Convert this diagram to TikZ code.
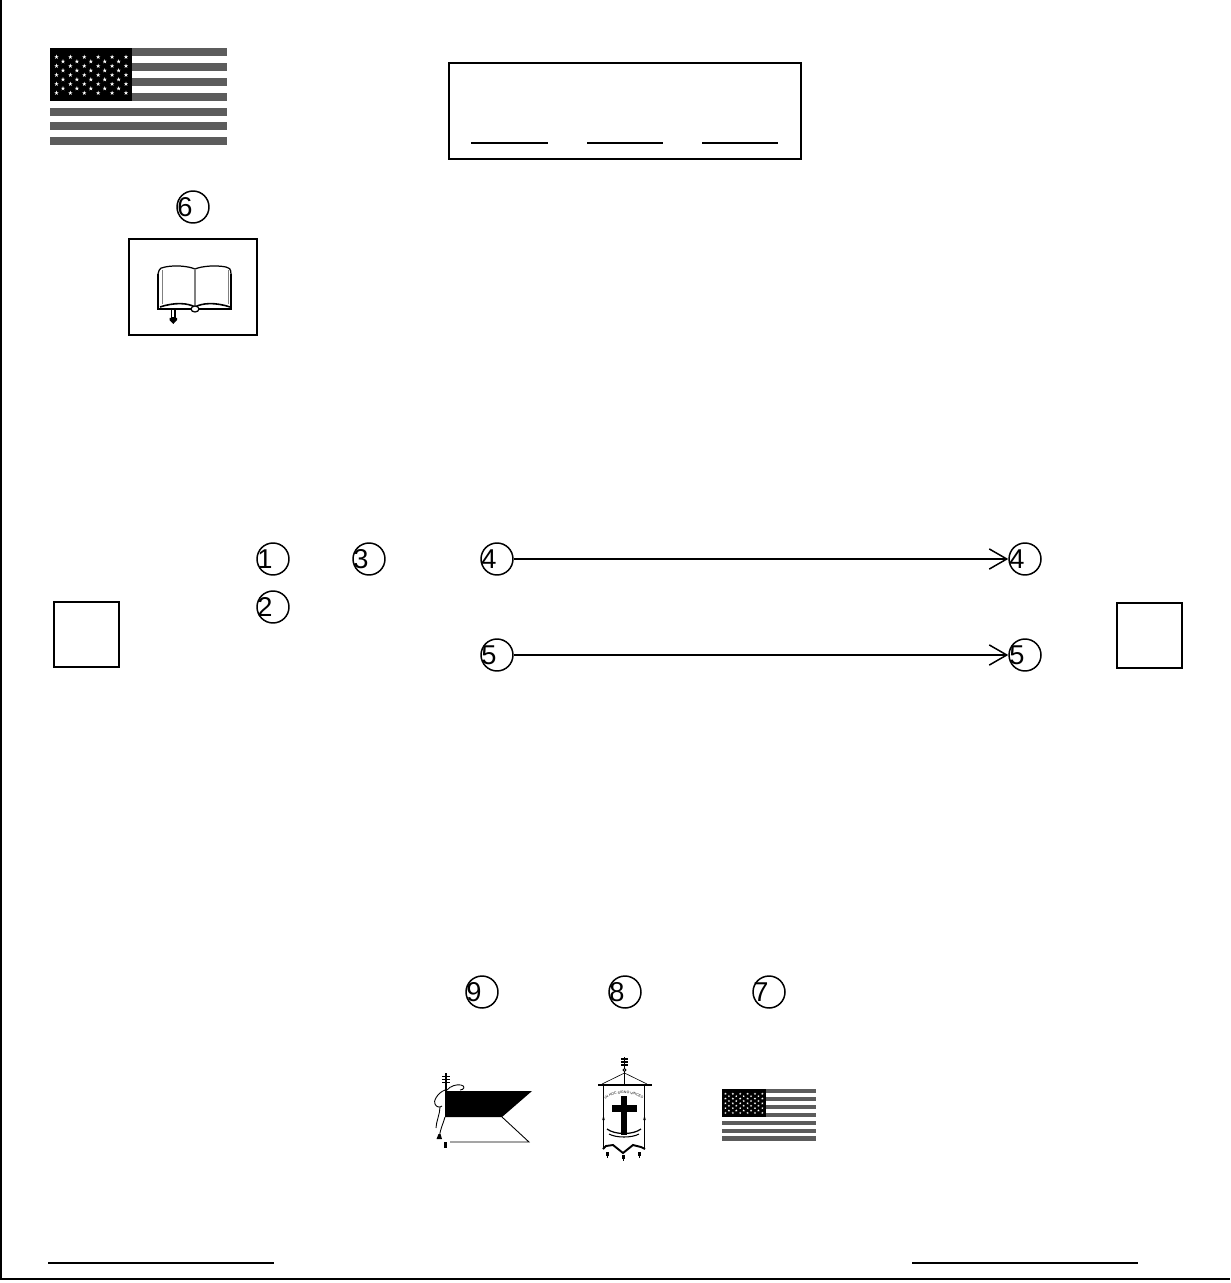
\documentclass[tikz,border=0pt]{standalone}
\usepackage{fontspec}
\setmainfont{Liberation Sans}
\usepackage{tikz}
\usetikzlibrary{arrows.meta, decorations.text}
\definecolor{stripegray}{gray}{0.36}
\tikzset{
  frameline/.style={line width=1.3pt},
  boxline/.style={draw, line width=1.1pt},
  inkline/.style={line width=0.7pt},
  numcircle/.style={draw, circle, line width=0.85pt, minimum size=18.2pt, inner sep=0pt, font=\fontsize{15.5}{16}\selectfont},
  flow/.style={->, line width=0.85pt, >={Straight Barb[length=10pt, width=11.5pt, line width=0.85pt]}},
  flag/.pic={
    % Stripes first, then the canton on top of them
    \foreach \row in {0,...,6}
      \fill[stripegray] (0,{\row*14.9}) rectangle (177,{\row*14.9+8});
    \fill[black] (0,0) rectangle (82,53);
    \foreach \row in {0,2,4,6,8}
      \foreach \col in {0,...,5}
        \fill[white] ({6.5+13.9*\col},{9+4.5*\row}) +(270:2.3) -- +(54:2.3) -- +(198:2.3) -- +(342:2.3) -- +(126:2.3) -- cycle;
    \foreach \row in {1,3,5,7}
      \foreach \col in {0,...,4}
        \fill[white] ({13+13.9*\col},{9+4.5*\row}) +(270:2.3) -- +(54:2.3) -- +(198:2.3) -- +(342:2.3) -- +(126:2.3) -- cycle;
  }
}
\newcommand{\shifted}[1]{\kern-0.3em#1\kern0.3em}

\begin{document}
\begin{tikzpicture}[x=0.02cm, y=-0.02cm, line cap=butt, line join=miter]
  \useasboundingbox (0,0) rectangle (1230,1283);

  % Page edge: only left and bottom show
  \draw[frameline] (1,0) -- (1,1279) -- (1230,1279);

  % Signature lines
  \coordinate (signAleft) at (48,1263);
  \coordinate (signAright) at (274,1263);
  \coordinate (signBleft) at (912,1263);
  \coordinate (signBright) at (1138,1263);
  \draw[boxline] (signAleft) -- (signAright);
  \draw[boxline] (signBleft) -- (signBright);

  % Flag, title box
  \pic at (50,48) {flag};
  \node[boxline, minimum width=200pt, minimum height=54.4pt, inner sep=0pt] (titlebox) at (625,111) {};
  \foreach \xa/\xb in {471/548,587/663,702/778}
    \draw[line width=1pt] (\xa,143) -- (\xb,143);

  % Book
  \node[numcircle] (six) at (193,207) {\shifted{6}};
  \node[boxline, minimum width=72.5pt, minimum height=54.4pt, inner sep=0pt] (bookbox) at (193,287) {};
  \begin{scope}[inkline]
    \draw (158,274) .. controls (159,268) and (162,267) .. (165,267) .. controls (175,265) and (188,266) .. (195,269)
      .. controls (202,266) and (216,265) .. (226,267) .. controls (229,267) and (231,269) .. (231,274);
    \draw (158,274) -- (158,309) -- (231,309) -- (231,274);
    \draw[gray, line width=0.5pt] (162,270) -- (162,304) (228,270) -- (228,304);
    \draw[gray, line width=0.6pt] (195,269) -- (195,306);
    \draw[line width=0.9pt] (160,307) .. controls (175,302) and (188,303) .. (195,307)
      .. controls (202,303) and (215,302) .. (230,307);
    \draw[line width=1.1pt] (158,309) -- (231,309);
    \draw[fill=white] (195,309) ellipse (4 and 3);
    \draw[fill=white] (171.5,309) rectangle (175,318);
    \fill (169.5,318) -- (177,318) -- (177,320) -- (173.3,324) -- (169.5,320) -- cycle;
  \end{scope}

  % Two end squares
  \node[boxline, minimum width=36.8pt, minimum height=36.8pt, inner sep=0pt] (leftsq) at (86.5,634.5) {};
  \node[boxline, minimum width=36.8pt, minimum height=36.8pt, inner sep=0pt] (rightsq) at (1149.5,635.5) {};

  % Numbered circles and arrows
  \node[numcircle] (one) at (273,559) {\shifted{1}};
  \node[numcircle] (two) at (273,607) {\shifted{2}};
  \node[numcircle] (three) at (369,559) {\shifted{3}};
  \node[numcircle] (fourL) at (497,559) {\shifted{4}};
  \node[numcircle] (fiveL) at (497,655) {\shifted{5}};
  \node[numcircle] (fourR) at (1025,559) {\shifted{4}};
  \node[numcircle] (fiveR) at (1025,655) {\shifted{5}};
  \draw[flow] (fourL) -- (fourR);
  \draw[flow] (fiveL) -- (fiveR);

  \node[numcircle] (nine) at (482,992) {\shifted{9}};
  \node[numcircle] (eight) at (625,992) {\shifted{8}};
  \node[numcircle] (seven) at (769,992) {\shifted{7}};

  % Swallowtail banner
  \fill (445,1091) -- (532,1091) -- (502,1117) -- (445,1117) -- cycle;
  \begin{scope}[line width=0.5pt]
    \draw (502,1117) -- (529,1142) -- (450,1142);
    \draw[line width=0.9pt] (446,1073) -- (446,1091);
    \draw (442,1076) -- (450,1076) (442,1079) -- (450,1079) (442,1082) -- (450,1082);
    \draw (447,1090) .. controls (450,1086) and (457,1084) .. (461,1085) .. controls (466,1086) and (464,1090) .. (460,1090);
    \draw (445,1090) .. controls (437,1093) and (433,1102) .. (435,1104) .. controls (436,1107) and (440,1108) .. (442,1106);
    \draw (440,1107) .. controls (440,1114) and (436,1122) .. (436,1128);
    \draw (445,1117) .. controls (443,1124) and (440,1130) .. (439.5,1136);
    \fill (438.5,1134) -- (440.5,1134) -- (442,1139) -- (436.5,1139) -- cycle;
    \draw[line width=1.3pt] (445.5,1142) -- (445.5,1148);
  \end{scope}

  % Processional banner with cross
  \begin{scope}[line width=0.5pt]
    \draw[line width=0.9pt] (624.5,1057) -- (624.5,1085);
    \draw[line width=0.8pt] (621,1059) -- (628,1059) (621,1062) -- (628,1062) (621,1065) -- (628,1065);
    \draw[fill=white] (624.5,1070) circle (1.5);
    \draw[line width=0.35pt] (624.5,1073) -- (602,1084) (624.5,1073) -- (647,1084);
    \draw[line width=1.1pt] (598,1085) -- (652,1085);
    \draw[line width=0.4pt] (603.5,1085) -- (603.5,1148) (644.5,1085) -- (644.5,1148);
    \draw[line width=1.1pt] (603,1149) -- (606,1146) -- (613,1145) -- (623,1153) -- (633,1145) -- (641,1147) -- (645,1149);
    \fill (602.3,1120) -- (604.7,1120) -- (603.5,1115) -- cycle;
    \fill (643.3,1120) -- (645.7,1120) -- (644.5,1115) -- cycle;
    \foreach \tx/\ty in {607/1152,623/1155,639/1152}{
      \fill ({\tx-1.5},\ty) rectangle ({\tx+1.5},{\ty+4});
      \draw (\tx,{\ty+4}) -- (\tx,{\ty+6});
    }
    \path[decorate, decoration={text along path, text align=center,
      text={|\fontsize{2}{3}\selectfont|IN HOC SIGNO VINCES}}]
      (606,1099) .. controls (613,1092) and (634,1092) .. (642,1099);
    \draw[line width=0.7pt] (607,1129) .. controls (615,1135) and (633,1135) .. (641,1129);
    \draw[line width=0.6pt] (609,1134) .. controls (616,1138) and (632,1138) .. (639,1134);
  \end{scope}
  \fill (621,1096) rectangle (627.3,1135);
  \fill (612.3,1105) rectangle (636.7,1111.7);

  % Small flag, same drawing scaled down
  \pic[scale=0.531] at (722,1089) {flag};
\end{tikzpicture}
\end{document}
